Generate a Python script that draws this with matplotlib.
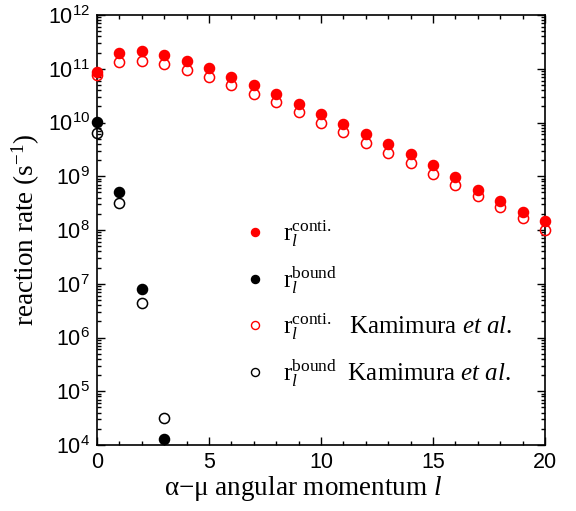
import numpy as np
import matplotlib
matplotlib.use("Agg")
import matplotlib.pyplot as plt
from matplotlib.ticker import LogLocator, MultipleLocator, FuncFormatter, NullFormatter
from matplotlib.lines import Line2D

tick_family = 'Liberation Sans'
tick_size = 15.5

plt.rcParams['mathtext.fontset'] = 'custom'
plt.rcParams['mathtext.rm'] = 'Liberation Serif'
plt.rcParams['mathtext.it'] = 'Liberation Serif:italic'
plt.rcParams['mathtext.sf'] = tick_family
plt.rcParams['font.family'] = ['Liberation Serif', 'DejaVu Sans']

l_conti = np.arange(0, 21)
r_conti = [8.8e10, 2.0e11, 2.1e11, 1.8e11, 1.4e11, 1.03e11, 7.1e10, 5.0e10, 3.4e10,
           2.2e10, 1.42e10, 9.3e9, 6.0e9, 4.0e9, 2.6e9, 1.6e9, 9.6e8, 5.5e8, 3.4e8,
           2.2e8, 1.47e8]
r_conti_kam = [7.5e10, 1.34e11, 1.37e11, 1.2e11, 9.6e10, 7.1e10, 5.0e10, 3.4e10, 2.4e10,
               1.57e10, 1.0e10, 6.7e9, 4.2e9, 2.7e9, 1.74e9, 1.1e9, 6.8e8, 4.3e8, 2.7e8,
               1.65e8, 1.02e8]
l_bound = np.arange(0, 4)
r_bound = [1.03e10, 5.2e8, 8.0e6, 1.31e4]
r_bound_kam = [6.3e9, 3.2e8, 4.3e6, 3.2e4]

fig = plt.figure(figsize=(5.76, 5.11), dpi=100)
ax = fig.add_axes([97/576, 1-445/511, (545-97)/576, (445-15)/511])

ms = 7.3
red = '#ff0000'
ax.plot(l_conti, r_conti, 'o', color=red, ms=ms, mec=red, clip_on=False, zorder=3)
ax.plot(l_bound, r_bound, 'o', color='black', ms=ms, clip_on=False, zorder=3)
ax.plot(l_conti, r_conti_kam, 'o', mfc='none', mec=red, ms=ms, mew=1.1, clip_on=False, zorder=3)
ax.plot(l_bound, r_bound_kam, 'o', mfc='none', mec='black', ms=ms, mew=1.1, clip_on=False, zorder=3)

ax.set_yscale('log')
ax.set_xlim(0, 20)
ax.set_ylim(1e4, 1e12)
ax.xaxis.set_major_locator(MultipleLocator(5))
ax.xaxis.set_minor_locator(MultipleLocator(1))
ax.yaxis.set_major_locator(LogLocator(base=10, numticks=20))
ax.yaxis.set_minor_locator(LogLocator(base=10, subs=np.arange(2, 10), numticks=20))
ax.yaxis.set_minor_formatter(NullFormatter())
ax.yaxis.set_major_formatter(FuncFormatter(lambda v, p: r'$\mathsf{10^{%d}}$' % int(round(np.log10(v)))))
ax.xaxis.set_major_formatter(FuncFormatter(lambda v, p: '%d' % v))
ax.tick_params(which='both', direction='in', top=True, right=True, width=1.0)
ax.tick_params(which='major', length=6, labelsize=tick_size, pad=5)
ax.tick_params(which='minor', length=3)
ax.tick_params(axis='x', labelfontfamily=tick_family)
for sp in ax.spines.values():
    sp.set_linewidth(1.2)

ax.set_xlabel(r'α−μ angular momentum $\mathit{l}$', fontsize=19.5, labelpad=2)
ax.xaxis.set_label_coords(0.46, -0.068)
ax.set_ylabel(r'reaction rate (s$^{\mathrm{-1}}$)', fontsize=19.5, labelpad=4)

lms = 5.8
handles = [
    Line2D([], [], ls='none', marker='o', color=red, ms=lms),
    Line2D([], [], ls='none', marker='o', color='black', ms=lms),
    Line2D([], [], ls='none', marker='o', mfc='none', mec=red, ms=lms),
    Line2D([], [], ls='none', marker='o', mfc='none', mec='black', ms=lms),
]
labels = [
    r'$\mathrm{r}_{l}^{\mathrm{conti.}}$',
    r'$\mathrm{r}_{l}^{\mathrm{bound}}$',
    r'$\mathrm{r}_{l}^{\mathrm{conti.}}\ \ \,\mathrm{Kamimura}\ \mathit{et\ al}\mathrm{.}$',
    r'$\mathrm{r}_{l}^{\mathrm{bound}}\ \ \mathrm{Kamimura}\ \mathit{et\ al}\mathrm{.}$',
]
leg = ax.legend(handles, labels, loc='upper left', bbox_to_anchor=(0.302, 0.551),
                frameon=False, fontsize=18, labelspacing=0.62, handletextpad=0.62,
                handlelength=1.0, borderaxespad=0.0)

fig.savefig('out.png', dpi=100)
